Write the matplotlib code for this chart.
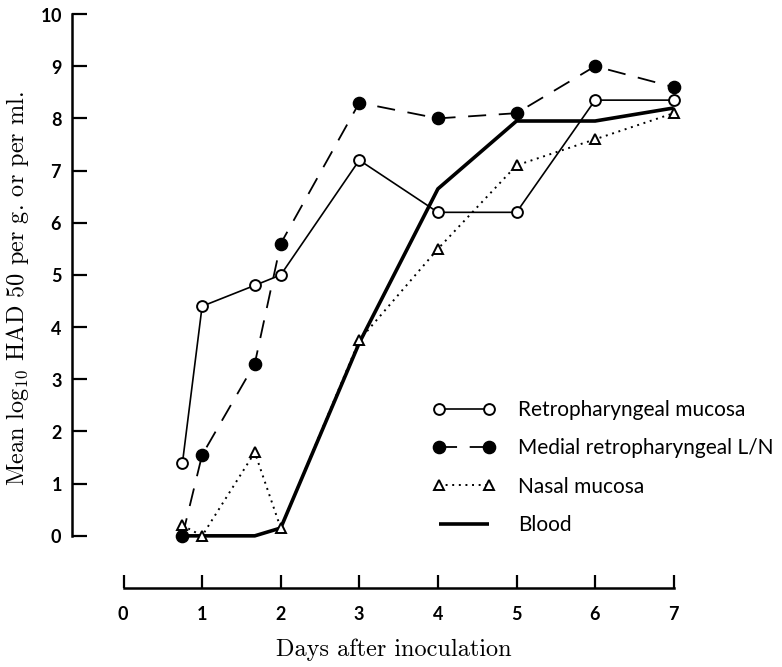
import matplotlib
matplotlib.use("Agg")
import matplotlib.pyplot as plt

plt.rcParams['mathtext.fontset'] = 'cm'
plt.rcParams['axes.formatter.use_mathtext'] = True

# days after inoculation
days = [0.75, 1, 1.67, 2, 3, 4, 5, 6, 7]
retro_mucosa = [1.4, 4.4, 4.8, 5.0, 7.2, 6.2, 6.2, 8.35, 8.35]
medial_ln = [0.0, 1.55, 3.3, 5.6, 8.3, 8.0, 8.1, 9.0, 8.6]
nasal_mucosa = [0.2, 0.0, 1.6, 0.15, 3.75, 5.5, 7.1, 7.6, 8.1]
blood = [0.0, 0.0, 0.0, 0.15, 3.7, 6.65, 7.95, 7.95, 8.2]

labels = ['Retropharyngeal mucosa', 'Medial retropharyngeal L/N',
          'Nasal mucosa', 'Blood']
x_ticks = [0, 1, 2, 3, 4, 5, 6, 7]
y_ticks = [0, 1, 2, 3, 4, 5, 6, 7, 8, 9, 10]

SANS = 'Lato'
SERIF = 'cmr10'

fig = plt.figure(figsize=(7.82, 6.67), dpi=100)
ax = fig.add_axes([0.0921, 0.1184, 0.8197, 0.8762])

ax.plot(days, retro_mucosa, color='black', lw=1.2, marker='o', ms=7.8,
        mfc='white', mec='black', mew=1.4, label=labels[0], zorder=4)
ax.plot(days, medial_ln, color='black', lw=1.3, dashes=(10, 7), marker='o',
        ms=8.8, mfc='black', mec='black', label=labels[1], zorder=3)
ax.plot(days, nasal_mucosa, color='black', lw=1.4, dashes=(1, 2.4), marker='^',
        ms=6.8, mfc='white', mec='black', mew=1.4, label=labels[2], zorder=4)
ax.plot(days, blood, color='black', lw=2.6, solid_capstyle='butt',
        label=labels[3], zorder=2)

ax.set_xlim(-0.655, 7.5)
ax.set_ylim(-1.0, 10.2)

for side in ['top', 'right']:
    ax.spines[side].set_visible(False)
ax.spines['left'].set_bounds(0, 10)
ax.spines['bottom'].set_bounds(0, 7)
ax.spines['left'].set_linewidth(1.8)
ax.spines['bottom'].set_linewidth(1.8)

ax.set_xticks(x_ticks)
ax.set_yticks(y_ticks)
ax.tick_params(axis='y', direction='in', length=11, width=1.6, pad=7,
               labelsize=13)
ax.tick_params(axis='x', direction='in', length=9.5, width=1.6, pad=12,
               labelsize=13)
for lab in ax.get_xticklabels() + ax.get_yticklabels():
    lab.set_fontfamily(SANS)
    lab.set_fontweight('bold')

ax.set_xlabel('Days after inoculation', fontfamily=SERIF, fontsize=17.5)
ax.set_ylabel('Mean log$_{10}$ HAD 50 per g. or per ml.', fontfamily=SERIF,
              fontsize=17.5)
ax.xaxis.set_label_coords(0.502, -0.086)
ax.yaxis.set_label_coords(-0.064, 0.512)

leg = ax.legend(loc='upper left', bbox_to_anchor=(433 / 782, 1 - 400 / 667),
                bbox_transform=fig.transFigure, frameon=False, numpoints=2,
                handlelength=3.0, handletextpad=1.1, labelspacing=0.88,
                borderpad=0, borderaxespad=0,
                prop={'family': SANS, 'size': 15})

fig.savefig('out.png', dpi=100)
